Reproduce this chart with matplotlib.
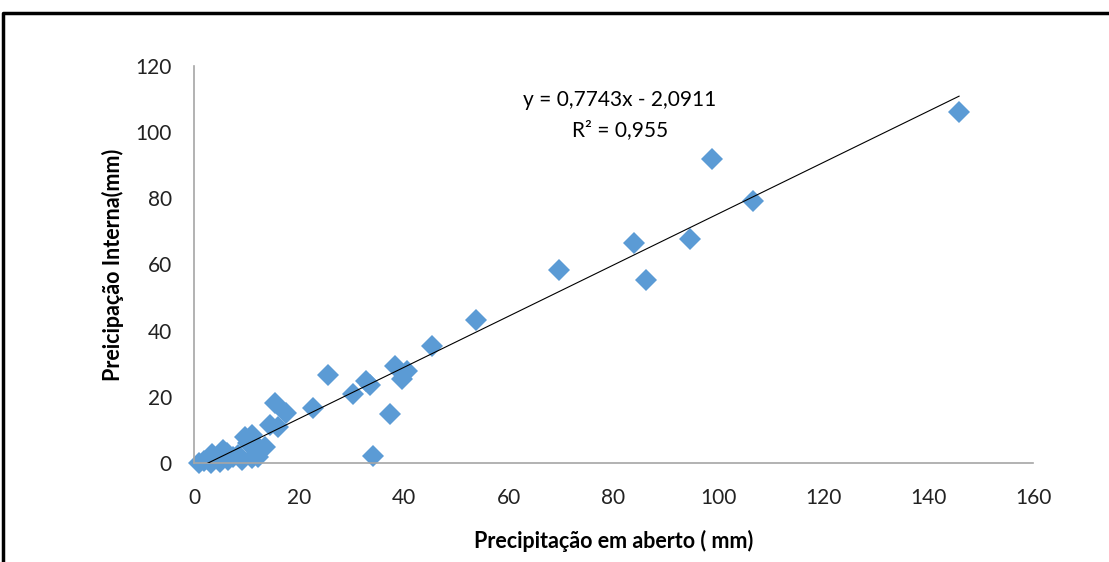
import matplotlib.pyplot as plt
import numpy as np
from matplotlib.lines import Line2D

# Open-air precipitation (mm) vs internal precipitation (mm)
aberto = [145.9, 98.8, 106.6, 83.9, 94.6, 86.2, 69.6, 53.8, 45.4, 40.6,
          38.3, 39.7, 37.4, 34.1, 32.8, 33.6, 30.3, 25.6, 22.7, 17.5,
          15.4, 14.5, 16.0, 13.5, 9.7, 11.1, 10.3, 1.0, 2.0, 2.8,
          3.5, 3.3, 4.2, 5.0, 5.5, 6.2, 6.5, 7.4, 8.4, 9.2,
          11.1, 12.2, 12.0]
interna = [106.1, 91.9, 79.2, 66.5, 67.7, 55.3, 58.3, 43.2, 35.4, 27.8,
           29.3, 25.4, 14.8, 2.1, 24.9, 23.6, 20.9, 26.6, 16.6, 15.1,
           18.1, 11.5, 10.9, 4.8, 7.9, 8.5, 6.0, 0.0, 0.5, 1.2,
           2.8, 0.0, 1.5, 0.2, 3.8, 3.0, 1.0, 1.8, 2.4, 1.0,
           1.5, 1.8, 5.0]

slope = 0.7743
intercept = -2.0911

xticks = [0, 20, 40, 60, 80, 100, 120, 140, 160]
yticks = [0, 20, 40, 60, 80, 100, 120]

plt.rcParams['font.family'] = ['Lato', 'DejaVu Sans']

fig = plt.figure(figsize=(11.09, 5.62), dpi=100)
ax = fig.add_axes([194/1109, 1 - 463/562, (1033 - 194)/1109, (463 - 66)/562])

ax.plot(aberto, interna, linestyle='none', marker='D', markersize=11,
        color='#5B9BD5', markeredgewidth=0, zorder=2, clip_on=False)

xs = np.array([min(aberto), max(aberto)])
ax.plot(xs, slope*xs + intercept, color='black', linewidth=0.8, zorder=3)

ax.set_xlim(0, 160)
ax.set_ylim(0, 120)
ax.set_xticks(xticks)
ax.set_yticks(yticks)
ax.tick_params(length=0, labelsize=15, colors='#222222')
ax.tick_params(axis='x', pad=18)
ax.tick_params(axis='y', pad=16)

for s in ['top', 'right']:
    ax.spines[s].set_visible(False)
for s in ['left', 'bottom']:
    ax.spines[s].set_color('#A6A6A6')
    ax.spines[s].set_linewidth(1.2)

ax.set_xlabel('Precipitação em aberto ( mm)', fontsize=15.5, fontweight='bold', labelpad=16)
ax.set_ylabel('Preicipação Interna(mm)', fontsize=15.5, fontweight='bold', labelpad=8)

ax.text(81.2, 109.7, 'y = 0,7743x - 2,0911', fontsize=15, ha='center', va='center')
ax.text(81.2, 100.6, 'R² = 0,955', fontsize=15, ha='center', va='center')

# outer frame (top and left edges visible)
fig.add_artist(Line2D([3/1109, 3/1109, 1.0], [0.0, 1 - 13/562, 1 - 13/562],
                      transform=fig.transFigure, color='black', linewidth=2.5))

fig.savefig('out.png', dpi=100)
